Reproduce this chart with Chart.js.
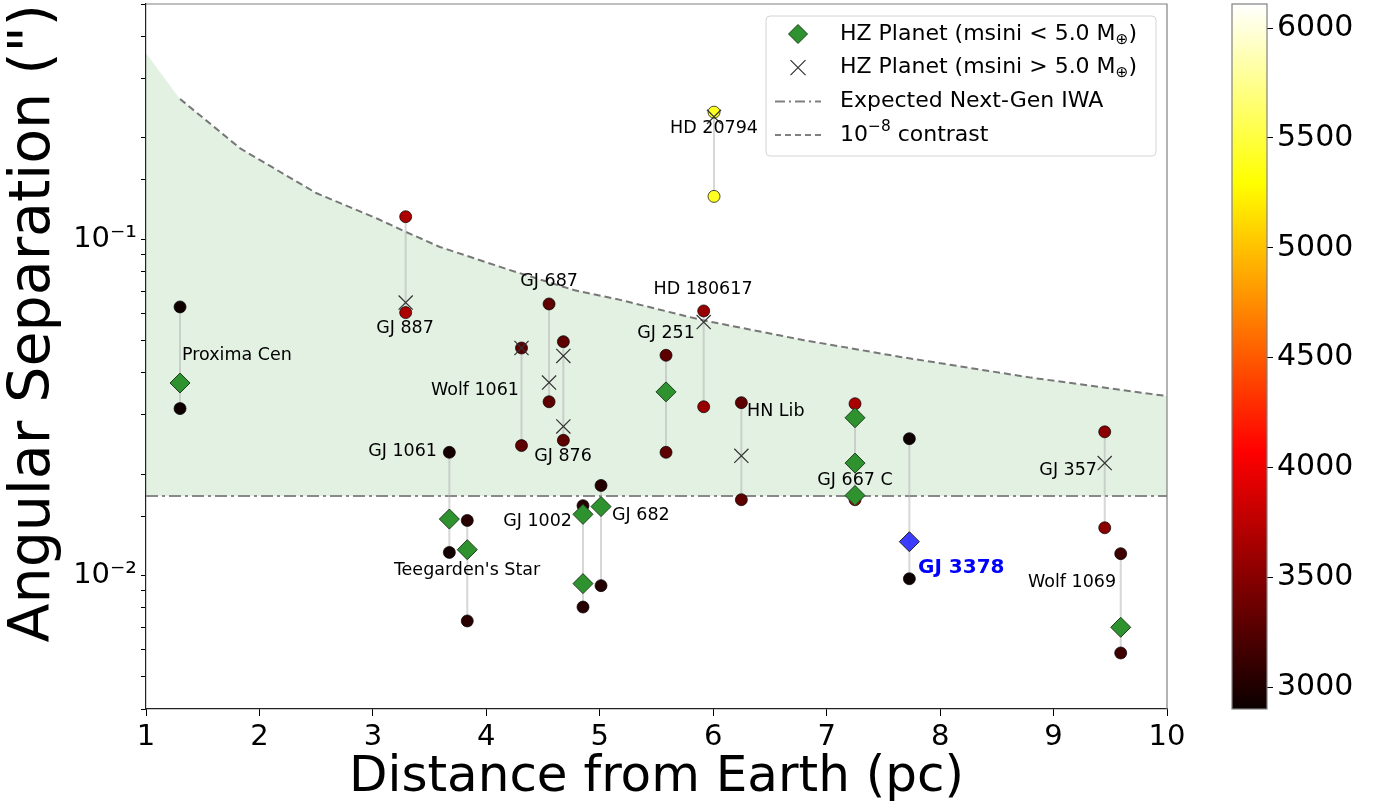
<!DOCTYPE html>
<html>
<head>
<meta charset="utf-8">
<script src="https://cdn.jsdelivr.net/npm/chart.js@4.4.1/dist/chart.umd.min.js"></script>
<style>
  body { margin: 0; background: #fff; }
  #wrap { position: relative; width: 1380px; height: 804px; }
  #main { position: absolute; left: 0; top: 0; }
  #cbar { position: absolute; left: 1180px; top: 0; }
</style>
</head>
<body>
<div id="wrap">
  <canvas id="main" width="1200" height="804"></canvas>
  <canvas id="cbar" width="200" height="804"></canvas>
</div>
<script>
// systems: distance (pc), outer / inner HZ edge separation ("), stellar Teff (K)
var systems = ['Proxima Cen', 'GJ 887', 'Wolf 1061', 'GJ 687', 'GJ 876', 'GJ 1061',
  "Teegarden's Star", 'GJ 1002', 'GJ 682', 'GJ 251', 'HD 180617', 'HN Lib',
  'GJ 667 C', 'GJ 3378', 'GJ 357', 'Wolf 1069', 'HD 20794'];
var dist    = [1.30, 3.289, 4.31, 4.553, 4.679, 3.674, 3.832, 4.852, 5.011, 5.584, 5.916, 6.248, 7.25, 7.729, 9.451, 9.592, 6.007];
var hzOuter = [0.0628, 0.1165, 0.0474, 0.0641, 0.0495, 0.0232, 0.01455, 0.0161, 0.01849, 0.0451, 0.0611, 0.0326, 0.03236, 0.02547, 0.0267, 0.01159, 0.2384];
var hzInner = [0.0313, 0.0604, 0.0243, 0.0328, 0.0252, 0.01169, 0.00731, 0.00804, 0.00931, 0.0232, 0.0317, 0.01677, 0.01677, 0.00976, 0.01384, 0.00587, 0.1339];
var teff    = [2920, 3680, 3300, 3300, 3290, 2950, 3040, 3030, 3020, 3300, 3580, 3300, 3660, 2910, 3510, 3150, 5400];

// planets with msini < 5 Earth masses (diamonds)
var smallDist = [1.30, 3.674, 3.832, 4.852, 4.852, 5.011, 5.584, 7.25, 7.25, 7.25, 9.592];
var smallSep  = [0.0373, 0.01469, 0.01191, 0.01517, 0.00944, 0.0160, 0.0351, 0.0294, 0.02155, 0.01726, 0.0070];
// planets with msini > 5 Earth masses (crosses)
var bigDist = [3.289, 4.31, 4.553, 4.679, 4.679, 5.916, 6.248, 9.451, 6.007];
var bigSep  = [0.0647, 0.0474, 0.0374, 0.0449, 0.0277, 0.0566, 0.02265, 0.02155, 0.2309];
// highlighted target
var hiDist = [7.729];
var hiSep  = [0.01258];

// 1e-8 contrast curve and next-gen IWA
var contrastDist = [1.0, 1.30, 1.83, 2.5, 3.045, 3.29, 3.59, 4.2, 4.77, 5.18, 5.9, 6.8, 7.65, 8.8, 10.0];
var contrastSep  = [0.357, 0.261, 0.186, 0.137, 0.1147, 0.105, 0.0947, 0.081, 0.0705, 0.0659, 0.0574, 0.050, 0.0446, 0.0387, 0.0341];
var iwaSep = 0.0172;

// text labels (data coords)
var labelDist  = [1.317, 3.283, 4.288, 4.553, 4.676, 3.565, 3.830, 4.755, 5.108, 5.584, 5.910, 6.298, 7.25, 7.805, 9.383, 9.551, 6.007];
var labelSep   = [0.0449, 0.05437, 0.03534, 0.07502, 0.0225, 0.02328, 0.01031, 0.01445, 0.01503, 0.0522, 0.0710, 0.0308, 0.0191, 0.01052, 0.02045, 0.0095, 0.2137];
var labelAlign = ['left', 'center', 'right', 'center', 'center', 'right', 'center', 'right', 'left', 'center', 'center', 'left', 'center', 'left', 'right', 'right', 'center'];

var xTicks = [1, 2, 3, 4, 5, 6, 7, 8, 9, 10];
var yTickExp = [-2, -1];
var yTickText = ['10\u207B\u00B2', '10\u207B\u00B9'];
var cbMin = 2900, cbMax = 6110;
var cbTicks = [3000, 3500, 4000, 4500, 5000, 5500, 6000];

var legendLabels = [
  [['HZ Planet (msini < 5.0 M', ''], ['\u2295', 'sub'], [')', '']],
  [['HZ Planet (msini > 5.0 M', ''], ['\u2295', 'sub'], [')', '']],
  [['Expected Next-Gen IWA', '']],
  [['10', ''], ['\u22128', 'sup'], [' contrast', '']]
];

Chart.defaults.font.family = '"DejaVu Sans"';
Chart.defaults.color = '#000';

// matplotlib "hot"
function hot(t) {
  var f = (t - cbMin) / (cbMax - cbMin);
  var r = Math.min(1, 0.0416 + f / 0.365079 * (1 - 0.0416));
  var g = Math.max(0, Math.min(1, (f - 0.365079) / (0.746032 - 0.365079)));
  var b = Math.max(0, Math.min(1, (f - 0.746032) / (1 - 0.746032)));
  return 'rgb(' + Math.round(r * 255) + ',' + Math.round(g * 255) + ',' + Math.round(b * 255) + ')';
}

var edgePts = [], edgeCols = [], rangePts = [];
systems.forEach(function (s, i) {
  edgePts.push({x: dist[i], y: hzOuter[i]}, {x: dist[i], y: hzInner[i]});
  edgeCols.push(hot(teff[i]), hot(teff[i]));
  rangePts.push({x: dist[i], y: hzOuter[i]}, {x: dist[i], y: hzInner[i]}, {x: dist[i], y: null});
});
function pts(xs, ys) { return xs.map(function (x, i) { return {x: x, y: ys[i]}; }); }

function drawRich(ctx, parts, x, y, size) {
  var cx = x;
  parts.forEach(function (p) {
    var s = p[1] ? size * 0.7 : size;
    ctx.font = s + 'px "DejaVu Sans"';
    var dy = p[1] === 'sub' ? size * 0.25 : (p[1] === 'sup' ? -size * 0.36 : 0);
    ctx.fillText(p[0], cx, y + dy);
    cx += ctx.measureText(p[0]).width;
  });
}

var framePlugin = {
  id: 'frame',
  afterDraw: function (chart) {
    var a = chart.chartArea, ctx = chart.ctx;
    ctx.save();
    ctx.strokeStyle = '#808080';
    ctx.lineWidth = 1.2;
    ctx.beginPath();
    ctx.moveTo(a.left, a.top);
    ctx.lineTo(a.right, a.top);
    ctx.lineTo(a.right, a.bottom);
    ctx.stroke();
    ctx.restore();
  }
};

var labelPlugin = {
  id: 'starLabels',
  afterDatasetsDraw: function (chart) {
    var ctx = chart.ctx, xs = chart.scales.x, ys = chart.scales.y;
    ctx.save();
    ctx.textBaseline = 'middle';
    systems.forEach(function (s, i) {
      var hi = s === 'GJ 3378';
      ctx.font = (hi ? 'bold 20px' : '17.5px') + ' "DejaVu Sans"';
      ctx.fillStyle = hi ? '#0000ff' : '#000';
      ctx.textAlign = labelAlign[i];
      ctx.fillText(s, xs.getPixelForValue(labelDist[i]), ys.getPixelForValue(labelSep[i]));
    });
    ctx.restore();
  }
};

var legendPlugin = {
  id: 'hzLegend',
  afterDraw: function (chart) {
    var a = chart.chartArea, ctx = chart.ctx;
    var w = 390, h = 140, left = a.right - w - 11, top = a.top + 12;
    ctx.save();
    ctx.beginPath();
    ctx.roundRect(left, top, w, h, 4);
    ctx.fillStyle = 'rgba(255,255,255,0.85)';
    ctx.fill();
    ctx.strokeStyle = '#d4d4d4';
    ctx.lineWidth = 1;
    ctx.stroke();
    var mx = left + 32;
    legendLabels.forEach(function (parts, i) {
      var y = top + 18 + i * 33.7;
      ctx.setLineDash([]);
      if (i === 0) {
        ctx.beginPath();
        ctx.moveTo(mx - 9.5, y); ctx.lineTo(mx, y - 9.5); ctx.lineTo(mx + 9.5, y); ctx.lineTo(mx, y + 9.5);
        ctx.closePath();
        ctx.fillStyle = '#2e922e'; ctx.fill();
        ctx.strokeStyle = '#1c3d1c'; ctx.lineWidth = 1; ctx.stroke();
      } else if (i === 1) {
        ctx.beginPath();
        ctx.moveTo(mx - 7.5, y - 7.5); ctx.lineTo(mx + 7.5, y + 7.5);
        ctx.moveTo(mx + 7.5, y - 7.5); ctx.lineTo(mx - 7.5, y + 7.5);
        ctx.strokeStyle = '#333'; ctx.lineWidth = 1.2; ctx.stroke();
      } else {
        ctx.beginPath();
        ctx.setLineDash(i === 2 ? [10, 4, 2, 4] : [6, 4]);
        ctx.moveTo(left + 9, y); ctx.lineTo(left + 55, y);
        ctx.strokeStyle = '#808080'; ctx.lineWidth = 2; ctx.stroke();
      }
      ctx.setLineDash([]);
      ctx.fillStyle = '#000';
      ctx.textAlign = 'left';
      ctx.textBaseline = 'middle';
      drawRich(ctx, parts, left + 74, y, 22);
    });
    ctx.restore();
  }
};

new Chart(document.getElementById('main'), {
  type: 'line',
  data: {
    datasets: [
      { label: 'GJ 3378 planet', data: pts(hiDist, hiSep), showLine: false, pointStyle: 'rectRot',
        pointRadius: 10, pointBackgroundColor: 'rgba(40,40,255,0.9)', pointBorderColor: '#222', pointBorderWidth: 1 },
      { label: 'HZ Planet (msini < 5.0)', data: pts(smallDist, smallSep), showLine: false, pointStyle: 'rectRot',
        pointRadius: 10, pointBackgroundColor: '#2e922e', pointBorderColor: '#1c3d1c', pointBorderWidth: 1 },
      { label: 'HZ Planet (msini > 5.0)', data: pts(bigDist, bigSep), showLine: false, pointStyle: 'crossRot',
        pointRadius: 10, pointBorderColor: '#333', pointBorderWidth: 1.2 },
      { label: 'HZ edges', data: edgePts, showLine: false, pointStyle: 'circle',
        pointRadius: 6, pointBackgroundColor: edgeCols, pointBorderColor: '#000', pointBorderWidth: 0.7 },
      { label: 'HZ range', data: rangePts, spanGaps: false, borderColor: 'rgba(175,175,175,0.5)',
        borderWidth: 2, pointRadius: 0 },
      { label: '10^-8 contrast', data: pts(contrastDist.slice(1), contrastSep.slice(1)), borderColor: '#777',
        borderDash: [7, 4], borderWidth: 2, pointRadius: 0, tension: 0 },
      { label: 'Expected Next-Gen IWA', data: [{x: 1, y: iwaSep}, {x: 10, y: iwaSep}], borderColor: '#888',
        borderDash: [12, 4, 3, 4], borderWidth: 2, pointRadius: 0 },
      { label: 'region', data: pts(contrastDist, contrastSep), borderWidth: 0, borderColor: 'rgba(0,128,0,0.12)',
        backgroundColor: 'rgba(0,128,0,0.11)', fill: {value: iwaSep}, pointRadius: 0 }
    ]
  },
  options: {
    responsive: false,
    animation: false,
    events: [],
    layout: { autoPadding: false, padding: { top: 4, right: 33, left: 0, bottom: 0 } },
    plugins: { legend: { display: false }, tooltip: { enabled: false } },
    scales: {
      x: {
        type: 'linear', min: 1, max: 10,
        afterBuildTicks: function (s) { s.ticks = xTicks.map(function (v) { return {value: v}; }); },
        ticks: { font: { size: 29 }, color: '#000', padding: 4, maxRotation: 0 },
        grid: { drawOnChartArea: false, tickLength: 7, tickColor: '#000' },
        border: { color: '#222', width: 1.2 },
        title: { display: true, text: 'Distance from Earth (pc)', font: { size: 50, lineHeight: 1.0 }, color: '#000', padding: { top: 0, bottom: 1 } },
        afterFit: function (s) { s.height = 95; }
      },
      y: {
        type: 'logarithmic', min: 0.004, max: 0.5,
        ticks: {
          autoSkip: false, font: { size: 29 }, color: '#000', padding: 4,
          callback: function (v) {
            var e = Math.log10(v), k = yTickExp.indexOf(Math.round(e));
            return (Math.abs(e - Math.round(e)) < 1e-6 && k >= 0) ? yTickText[k] : '';
          }
        },
        grid: { drawOnChartArea: false, tickLength: 5, tickColor: '#000' },
        border: { color: '#222', width: 1.2 },
        title: { display: true, text: 'Angular Separation (")', align: 'end', font: { size: 57, lineHeight: 1.0 }, color: '#000', padding: { top: 6, bottom: 0 } },
        afterFit: function (s) { s.width = 146; s.paddingTop = 0; s.paddingBottom = 0; }
      }
    }
  },
  plugins: [framePlugin, labelPlugin, legendPlugin]
});

// colour bar
var cbPlugin = {
  id: 'cbFill',
  beforeDraw: function (chart) {
    var a = chart.chartArea, ctx = chart.ctx;
    var g = ctx.createLinearGradient(0, a.bottom, 0, a.top);
    g.addColorStop(0, hot(cbMin));
    g.addColorStop(0.365079, 'rgb(255,0,0)');
    g.addColorStop(0.746032, 'rgb(255,255,0)');
    g.addColorStop(1, 'rgb(255,255,255)');
    ctx.fillStyle = g;
    ctx.fillRect(a.left, a.top, a.right - a.left, a.bottom - a.top);
  },
  afterDraw: function (chart) {
    var a = chart.chartArea, ctx = chart.ctx;
    ctx.save();
    ctx.strokeStyle = '#808080';
    ctx.lineWidth = 1.2;
    ctx.strokeRect(a.left, a.top, a.right - a.left, a.bottom - a.top);
    ctx.restore();
  }
};

new Chart(document.getElementById('cbar'), {
  type: 'line',
  data: { datasets: [] },
  options: {
    responsive: false,
    animation: false,
    events: [],
    layout: { autoPadding: false, padding: { left: 52, top: 4, bottom: 95, right: 0 } },
    plugins: { legend: { display: false }, tooltip: { enabled: false } },
    scales: {
      x: { type: 'linear', display: false },
      y: {
        position: 'right', min: cbMin, max: cbMax,
        afterBuildTicks: function (s) { s.ticks = cbTicks.map(function (v) { return {value: v}; }); },
        ticks: { font: { size: 30 }, color: '#000', padding: 4, callback: function (v) { return String(v); } },
        grid: { drawOnChartArea: false, tickLength: 6, tickColor: '#000' },
        border: { display: false },
        afterFit: function (s) { s.width = 113; s.paddingTop = 0; s.paddingBottom = 0; }
      }
    }
  },
  plugins: [cbPlugin]
});
</script>
</body>
</html>
